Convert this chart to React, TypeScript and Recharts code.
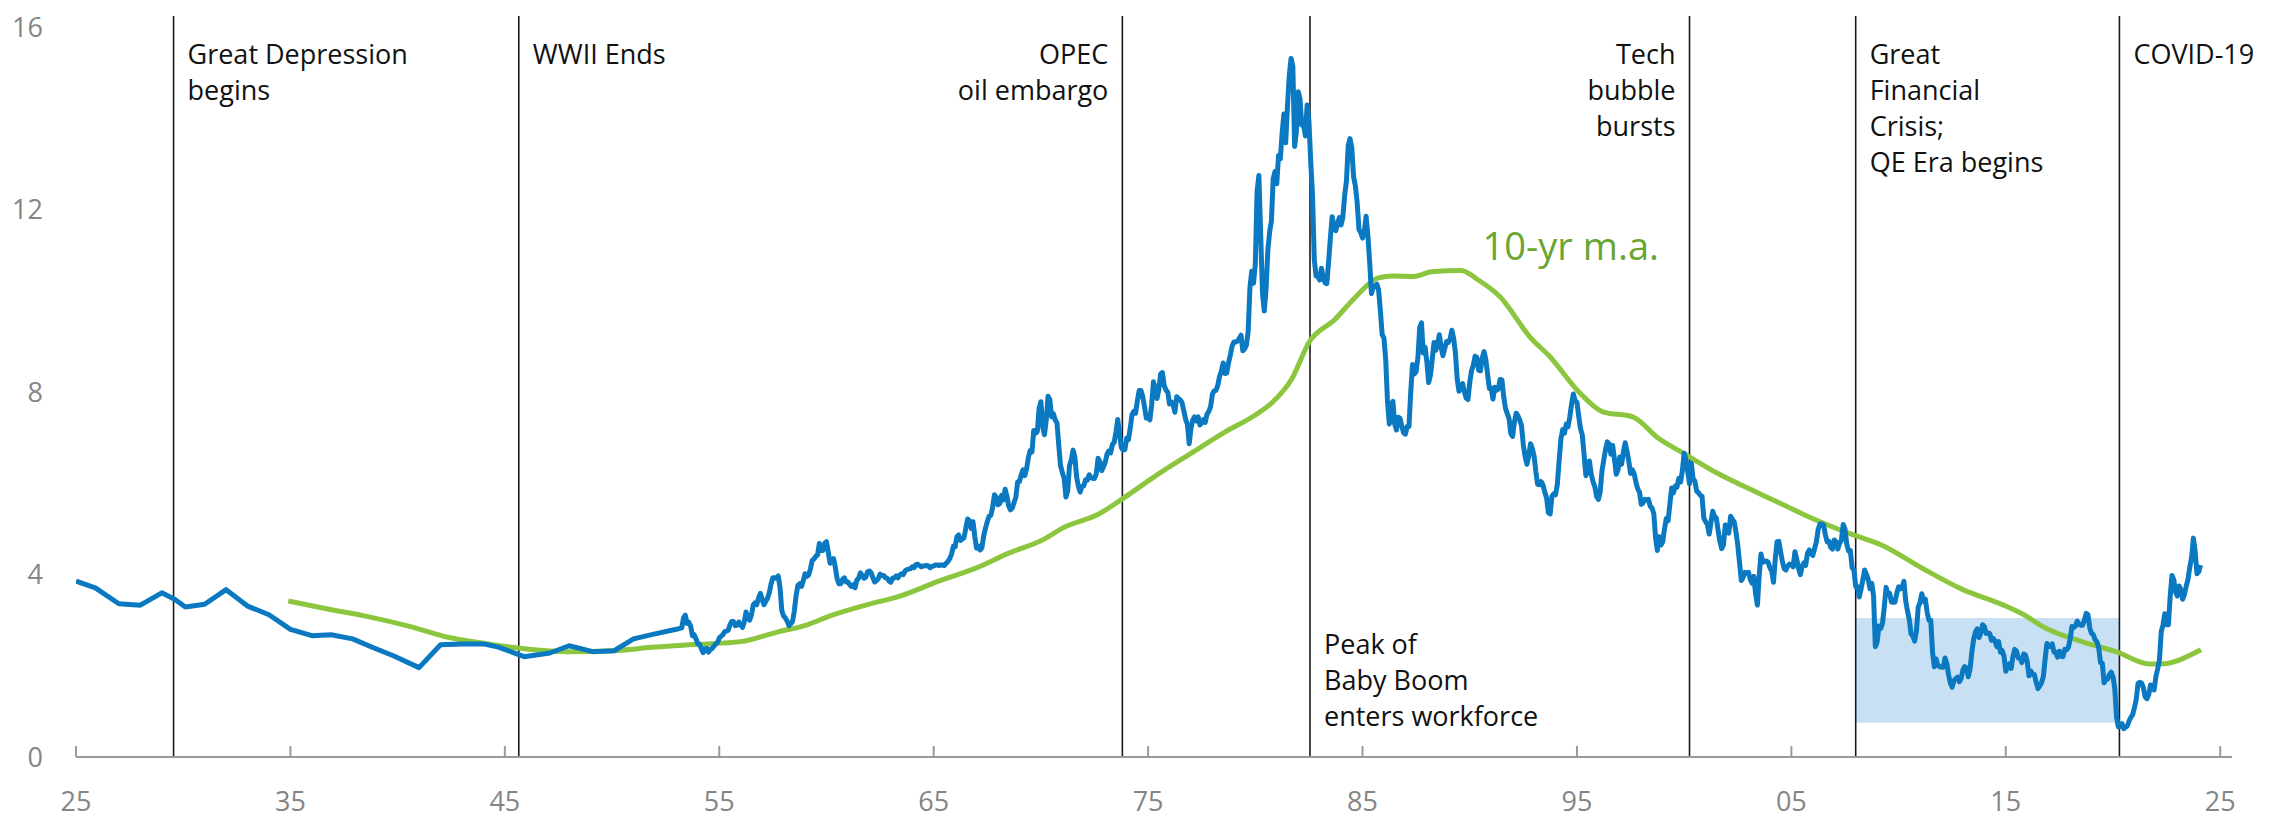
import React from 'react'
import {
  ComposedChart,
  Line,
  XAxis,
  YAxis,
  ReferenceLine,
  ReferenceArea,
  ReferenceDot,
} from 'recharts'

// Long bond yield before the monthly series starts
const earlyYears = [
  1925, 1925.9, 1927, 1928, 1929, 1929.6, 1930.1, 1931, 1932, 1933, 1934, 1935, 1936, 1936.9,
  1937.9, 1938.9, 1939.8, 1941, 1942, 1943, 1944, 1944.7, 1945.9, 1947.1, 1948, 1949.1, 1950.1,
  1951, 1952, 1953,
]
const earlyYields = [
  3.86, 3.71, 3.36, 3.33, 3.6, 3.46, 3.29, 3.35, 3.67, 3.31, 3.12, 2.8, 2.66, 2.68, 2.59, 2.39,
  2.22, 1.96, 2.46, 2.48, 2.48, 2.41, 2.2, 2.28, 2.44, 2.31, 2.33, 2.59, 2.7, 2.8,
]

// Monthly 10-yr yield, starting April 1953
const yields1950s = [
  2.83, 3.05, 3.11, 2.93, 2.95, 2.87, 2.66, 2.68, 2.59,
  2.48, 2.47, 2.37, 2.29, 2.37, 2.38, 2.3, 2.36, 2.38, 2.43, 2.48, 2.51,
  2.61, 2.65, 2.68, 2.75, 2.76, 2.78, 2.9, 2.97, 2.97, 2.88, 2.89, 2.96,
  2.9, 2.84, 2.96, 3.18, 3.07, 3.0, 3.11, 3.33, 3.38, 3.34, 3.49, 3.59,
  3.46, 3.34, 3.41, 3.48, 3.6, 3.8, 3.93, 3.93, 3.92, 3.97, 3.72, 3.21,
  3.09, 3.05, 2.98, 2.88, 2.92, 2.97, 3.2, 3.54, 3.76, 3.8, 3.74, 3.86,
  4.02, 3.96, 3.99, 4.12, 4.31, 4.34, 4.4, 4.43, 4.68, 4.53, 4.53, 4.69,
]
const yields1960s = [
  4.72, 4.49, 4.25, 4.28, 4.35, 4.15, 3.9, 3.8, 3.8, 3.89, 3.93, 3.84,
  3.84, 3.78, 3.74, 3.78, 3.71, 3.88, 3.92, 4.04, 3.98, 3.92, 3.94, 4.06,
  4.08, 4.04, 3.93, 3.84, 3.87, 3.91, 4.01, 3.98, 3.98, 3.93, 3.92, 3.86,
  3.83, 3.92, 3.93, 3.97, 3.93, 3.99, 4.02, 4.0, 4.08, 4.11, 4.12, 4.13,
  4.17, 4.15, 4.22, 4.23, 4.2, 4.17, 4.19, 4.19, 4.2, 4.19, 4.15, 4.18,
  4.19, 4.21, 4.21, 4.2, 4.21, 4.21, 4.2, 4.25, 4.29, 4.35, 4.45, 4.62,
  4.61, 4.83, 4.87, 4.75, 4.78, 4.81, 5.02, 5.22, 5.18, 5.01, 5.16, 4.84,
  4.58, 4.63, 4.54, 4.59, 4.85, 5.02, 5.16, 5.28, 5.3, 5.48, 5.75, 5.7,
  5.53, 5.56, 5.74, 5.64, 5.87, 5.72, 5.5, 5.42, 5.46, 5.58, 5.7, 6.03,
  6.04, 6.19, 6.3, 6.17, 6.32, 6.57, 6.72, 6.69, 7.16, 7.1, 7.14, 7.65,
]
const yields1970s = [
  7.79, 7.24, 7.07, 7.39, 7.91, 7.84, 7.46, 7.53, 7.39, 7.33, 6.84, 6.39,
  6.24, 6.11, 5.7, 5.83, 6.39, 6.52, 6.73, 6.58, 6.14, 5.93, 5.81, 5.93,
  5.95, 6.08, 6.07, 6.19, 6.13, 6.11, 6.11, 6.21, 6.55, 6.48, 6.28, 6.36,
  6.46, 6.64, 6.71, 6.67, 6.85, 6.9, 7.13, 7.4, 7.09, 6.79, 6.73, 6.74,
  6.99, 6.96, 7.21, 7.51, 7.58, 7.54, 7.81, 8.04, 8.04, 7.9, 7.68, 7.43,
  7.5, 7.39, 7.73, 8.23, 8.06, 7.86, 8.06, 8.4, 8.43, 8.14, 8.05, 8.0,
  7.74, 7.79, 7.73, 7.56, 7.9, 7.86, 7.83, 7.77, 7.59, 7.41, 7.29, 6.87,
  7.21, 7.39, 7.46, 7.37, 7.46, 7.28, 7.33, 7.4, 7.34, 7.52, 7.58, 7.69,
  7.96, 8.03, 8.04, 8.15, 8.35, 8.46, 8.64, 8.41, 8.42, 8.64, 8.81, 9.01,
  9.1, 9.1, 9.12, 9.18, 9.25, 8.91, 8.95, 9.03, 9.33, 10.3, 10.65, 10.39,
]
const yields1980s = [
  10.8, 12.41, 12.75, 11.47, 10.18, 9.78, 10.25, 11.1, 11.51, 11.75, 12.68, 12.84,
  12.57, 13.19, 13.12, 13.68, 14.1, 13.47, 14.28, 14.94, 15.32, 15.15, 13.39, 13.72,
  14.59, 14.43, 13.86, 13.87, 13.62, 14.3, 13.95, 13.06, 12.34, 10.91, 10.55, 10.54,
  10.46, 10.72, 10.51, 10.4, 10.38, 10.85, 11.38, 11.85, 11.65, 11.54, 11.69, 11.83,
  11.67, 11.84, 12.32, 12.63, 13.41, 13.56, 13.36, 12.72, 12.52, 12.16, 11.57, 11.5,
  11.38, 11.51, 11.86, 11.43, 10.85, 10.16, 10.31, 10.33, 10.37, 10.24, 9.78, 9.26,
  9.19, 8.7, 7.78, 7.3, 7.71, 7.8, 7.3, 7.17, 7.45, 7.43, 7.25, 7.11,
  7.08, 7.25, 7.25, 8.02, 8.61, 8.4, 8.45, 8.76, 9.42, 9.52, 8.86, 8.99,
  8.67, 8.21, 8.37, 8.72, 9.09, 8.92, 9.06, 9.26, 8.98, 8.8, 8.96, 9.11,
  9.09, 9.17, 9.36, 9.18, 8.86, 8.28, 8.02, 8.11, 8.19, 8.01, 7.87, 7.84,
]
const yields1990s = [
  8.21, 8.47, 8.59, 8.79, 8.76, 8.48, 8.47, 8.75, 8.89, 8.72, 8.39, 8.08,
  8.09, 7.85, 8.11, 8.04, 8.07, 8.28, 8.27, 7.9, 7.65, 7.53, 7.42, 7.09,
  7.03, 7.34, 7.54, 7.48, 7.39, 7.26, 6.84, 6.59, 6.42, 6.59, 6.87, 6.77,
  6.6, 6.26, 5.98, 5.97, 6.04, 5.96, 5.81, 5.68, 5.36, 5.33, 5.72, 5.77,
  5.75, 5.97, 6.48, 6.97, 7.18, 7.1, 7.3, 7.24, 7.46, 7.74, 7.96, 7.81,
  7.78, 7.47, 7.2, 7.06, 6.63, 6.17, 6.28, 6.49, 6.2, 6.04, 5.93, 5.71,
  5.65, 5.81, 6.27, 6.51, 6.74, 6.91, 6.87, 6.64, 6.83, 6.53, 6.2, 6.3,
  6.58, 6.42, 6.69, 6.89, 6.71, 6.49, 6.22, 6.3, 6.21, 6.03, 5.88, 5.81,
  5.54, 5.57, 5.65, 5.64, 5.65, 5.5, 5.46, 5.34, 4.81, 4.53, 4.83, 4.65,
  4.72, 5.0, 5.23, 5.18, 5.54, 5.9, 5.79, 5.94, 5.92, 6.11, 6.03, 6.28,
]
const yields2000s = [
  6.66, 6.52, 6.26, 5.99, 6.44, 6.1, 6.05, 5.83, 5.8, 5.74, 5.72, 5.24,
  5.16, 5.1, 4.89, 5.14, 5.39, 5.28, 5.24, 4.97, 4.73, 4.57, 4.65, 5.09,
  5.04, 4.91, 5.28, 5.21, 5.16, 4.93, 4.65, 4.26, 3.87, 3.94, 4.05, 4.03,
  4.05, 3.9, 3.81, 3.96, 3.57, 3.33, 3.98, 4.45, 4.27, 4.29, 4.3, 4.27,
  4.15, 4.08, 3.83, 4.35, 4.72, 4.73, 4.5, 4.28, 4.13, 4.1, 4.19, 4.23,
  4.22, 4.17, 4.5, 4.34, 4.14, 4.0, 4.18, 4.26, 4.2, 4.46, 4.54, 4.47,
  4.42, 4.57, 4.72, 4.99, 5.11, 5.11, 5.09, 4.88, 4.72, 4.73, 4.6, 4.56,
  4.76, 4.72, 4.56, 4.69, 4.75, 5.1, 5.0, 4.67, 4.52, 4.53, 4.15, 4.1,
  3.74, 3.74, 3.51, 3.68, 3.88, 4.1, 4.01, 3.89, 3.69, 3.81, 3.53, 2.42,
  2.52, 2.87, 2.82, 2.93, 3.29, 3.72, 3.56, 3.59, 3.4, 3.39, 3.4, 3.59,
]
const yields2010s = [
  3.73, 3.69, 3.73, 3.85, 3.42, 3.2, 3.01, 2.7, 2.65, 2.54, 2.76, 3.29,
  3.39, 3.58, 3.41, 3.46, 3.17, 3.0, 3.0, 2.3, 1.98, 2.15, 2.01, 1.98,
  1.97, 1.97, 2.17, 2.05, 1.8, 1.62, 1.53, 1.68, 1.72, 1.75, 1.65, 1.72,
  1.91, 1.98, 1.96, 1.76, 1.93, 2.3, 2.58, 2.74, 2.81, 2.62, 2.72, 2.9,
  2.86, 2.71, 2.72, 2.71, 2.56, 2.6, 2.54, 2.42, 2.53, 2.3, 2.33, 2.21,
  1.88, 1.98, 2.04, 1.94, 2.2, 2.36, 2.32, 2.17, 2.17, 2.07, 2.26, 2.24,
  2.09, 1.78, 1.89, 1.81, 1.81, 1.64, 1.5, 1.56, 1.63, 1.76, 2.14, 2.49,
  2.43, 2.42, 2.48, 2.3, 2.3, 2.19, 2.32, 2.21, 2.2, 2.36, 2.35, 2.4,
  2.58, 2.86, 2.84, 2.87, 2.98, 2.91, 2.89, 2.89, 3.0, 3.15, 3.12, 2.83,
  2.71, 2.68, 2.57, 2.53, 2.4, 2.07, 2.06, 1.63, 1.7, 1.71, 1.81, 1.86,
]
const yields2020s = [
  1.76, 1.5, 0.87, 0.66, 0.67, 0.73, 0.62, 0.65, 0.68, 0.79, 0.87, 0.93,
  1.08, 1.26, 1.61, 1.64, 1.62, 1.52, 1.32, 1.28, 1.37, 1.58, 1.56, 1.47,
  1.76, 1.93, 2.13, 2.75, 2.9, 3.14, 2.9, 2.9, 3.52, 3.98, 3.89, 3.62,
  3.53, 3.75, 3.66, 3.46, 3.57, 3.75, 3.9, 4.17, 4.38, 4.8, 4.5, 4.02,
  4.06, 4.21,
]

// 10-yr moving average
const maYears = [
  1934.9, 1936.8, 1938.5, 1940.6, 1942.4, 1944.1, 1946, 1948, 1950, 1952, 1954, 1956, 1957.7,
  1959.1, 1960.2, 1961.9, 1963.5, 1965.2, 1966.9, 1968.5, 1970.2, 1971, 1972.7, 1973.8, 1975.3,
  1977, 1978.6, 1980, 1980.8, 1981.7, 1982.5, 1983.7, 1984.7, 1985.7, 1986.4, 1987.4, 1988.2,
  1989.6, 1990.4, 1991.4, 1992.9, 1993.7, 1995.1, 1996.2, 1997.6, 1998.8, 1999.9, 2001.6,
  2003.5, 2004.5, 2005.8, 2006.9, 2007.9, 2009.2, 2011.1, 2013, 2014.9, 2015.8, 2016.8, 2018.7,
  2020.2, 2021.7, 2022.2, 2024.1,
]
const maValues = [
  3.42, 3.24, 3.09, 2.86, 2.62, 2.49, 2.37, 2.31, 2.33, 2.41, 2.47, 2.53, 2.74, 2.9, 3.1, 3.34,
  3.54, 3.85, 4.13, 4.47, 4.79, 5.02, 5.33, 5.66, 6.15, 6.66, 7.13, 7.5, 7.78, 8.29, 9.09, 9.59,
  10.1, 10.5, 10.55, 10.54, 10.64, 10.67, 10.46, 10.1, 9.16, 8.8, 8.0, 7.57, 7.46, 6.99, 6.68,
  6.21, 5.78, 5.56, 5.27, 5.05, 4.87, 4.65, 4.14, 3.67, 3.33, 3.13, 2.84, 2.51, 2.3, 2.04, 2.04,
  2.35,
]

const xTicks = [1925, 1935, 1945, 1955, 1965, 1975, 1985, 1995, 2005, 2015, 2025]
const yTicks = [0, 4, 8, 12, 16]

const eventYears = [1929.55, 1945.65, 1973.8, 1982.55, 2000.25, 2008.0, 2020.3]
const eventLabels = [
  ['Great Depression', 'begins'],
  ['WWII Ends'],
  ['OPEC', 'oil embargo'],
  ['Peak of', 'Baby Boom', 'enters workforce'],
  ['Tech', 'bubble', 'bursts'],
  ['Great', 'Financial', 'Crisis;', 'QE Era begins'],
  ['COVID-19'],
]

// shaded "QE era" box
const qeBox = { x1: 2008.0, x2: 2020.3, y1: 0.75, y2: 3.05 }

const FONT = "'Open Sans', 'Noto Sans', sans-serif"

const eventStyle = [
  { side: 'right', top: 64 },
  { side: 'right', top: 64 },
  { side: 'left', top: 64 },
  { side: 'right', top: 654 },
  { side: 'left', top: 64 },
  { side: 'right', top: 64 },
  { side: 'right', top: 64 },
]

const monthly = (start: number, startMonth: number, values: number[]) =>
  values.map((v, i) => ({ x: start + (startMonth + i) / 12, v }))

const yieldData = [
  ...earlyYears.map((x, i) => ({ x, v: earlyYields[i] })),
  ...monthly(1953, 3, yields1950s),
  ...monthly(1960, 0, yields1960s),
  ...monthly(1970, 0, yields1970s),
  ...monthly(1980, 0, yields1980s),
  ...monthly(1990, 0, yields1990s),
  ...monthly(2000, 0, yields2000s),
  ...monthly(2010, 0, yields2010s),
  ...monthly(2020, 0, yields2020s),
]
const maData = maYears.map((x, i) => ({ x, v: maValues[i] }))

function EventLabel(props: any) {
  const { viewBox, idx } = props
  const st = eventStyle[idx]
  const x = st.side === 'right' ? viewBox.x + 14 : viewBox.x - 14
  return (
    <text
      x={x}
      y={st.top}
      textAnchor={st.side === 'right' ? 'start' : 'end'}
      fontFamily={FONT}
      fontSize={27}
      fill="#111"
    >
      {eventLabels[idx].map((line, i) => (
        <tspan key={i} x={x} y={st.top + i * 36}>
          {line}
        </tspan>
      ))}
    </text>
  )
}

function MaLabel(props: any) {
  const { viewBox } = props
  return (
    <text x={viewBox.x} y={viewBox.y} fontFamily={FONT} fontSize={38} fill="#6aa532">
      10-yr m.a.
    </text>
  )
}

export default function App() {
  return (
    <div style={{ width: 2280, height: 819, background: '#fff' }}>
      <style>{'body{margin:0}'}</style>
      <ComposedChart width={2280} height={819} margin={{ top: 16, right: 48, bottom: 0, left: 0 }}>
        <XAxis
          type="number"
          dataKey="x"
          domain={[1925, 2025.55]}
          ticks={xTicks}
          interval={0}
          allowDataOverflow
          height={62}
          tickFormatter={(v: number) => String(v % 100).padStart(2, '0')}
          axisLine={{ stroke: '#9a9a9a', strokeWidth: 2 }}
          tickLine={{ stroke: '#9a9a9a', strokeWidth: 2 }}
          tickSize={-11}
          tickMargin={46}
          tick={{ fill: '#858585', fontSize: 27, fontFamily: FONT }}
        />
        <YAxis
          type="number"
          domain={[0, 16.25]}
          ticks={yTicks}
          interval={0}
          allowDataOverflow
          width={76}
          axisLine={false}
          tickLine={false}
          tickSize={0}
          tickMargin={33}
          tick={{ fill: '#858585', fontSize: 27, fontFamily: FONT }}
        />
        <ReferenceArea
          x1={qeBox.x1}
          x2={qeBox.x2}
          y1={qeBox.y1}
          y2={qeBox.y2}
          fill="#c8e0f3"
          fillOpacity={1}
          stroke="none"
        />
        {eventYears.map((yr, i) => (
          <ReferenceLine
            key={yr}
            x={yr}
            stroke="#1a1a1a"
            strokeWidth={1.6}
            label={<EventLabel idx={i} />}
          />
        ))}
        <Line
          data={maData}
          dataKey="v"
          type="monotone"
          stroke="#8cc63f"
          strokeWidth={5}
          dot={false}
          isAnimationActive={false}
        />
        <Line
          data={yieldData}
          dataKey="v"
          type="linear"
          stroke="#0a79c1"
          strokeWidth={5}
          strokeLinejoin="round"
          dot={false}
          isAnimationActive={false}
        />
        <ReferenceDot x={1990.6} y={10.9} r={0} fill="none" stroke="none" label={<MaLabel />} />
      </ComposedChart>
    </div>
  )
}
